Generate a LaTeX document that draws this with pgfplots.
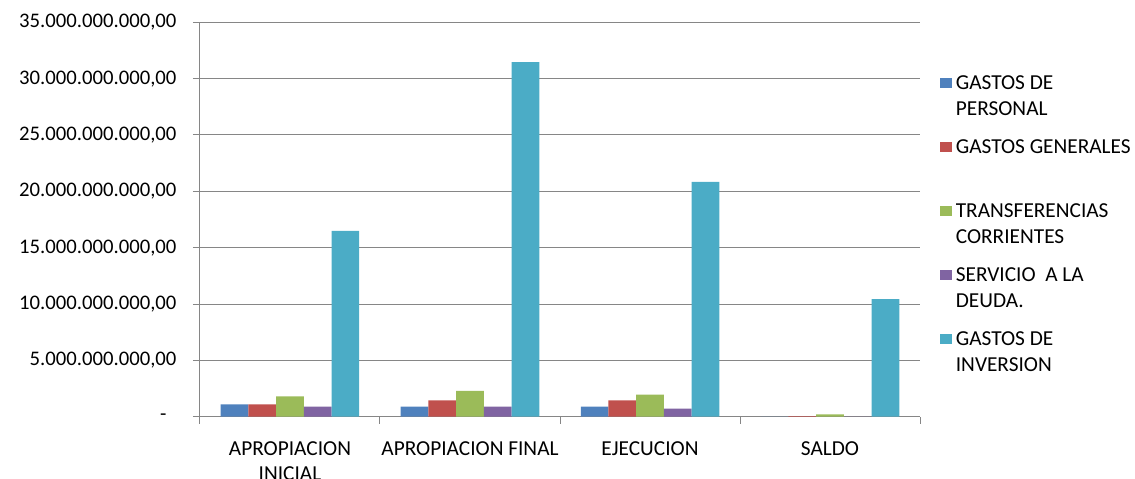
\documentclass[border=0pt]{standalone}
\usepackage{pgfplots}
\pgfplotsset{compat=1.18}
\usepackage{fontspec}
\setmainfont{Carlito}

\definecolor{c1}{HTML}{4F81BD}
\definecolor{c2}{HTML}{C0504D}
\definecolor{c3}{HTML}{9BBB59}
\definecolor{c4}{HTML}{8064A2}
\definecolor{c5}{HTML}{4BACC6}
\definecolor{gridc}{HTML}{868686}

\newcommand\lgentry[2]{\parbox[t]{180bp}{\strut #1\\\strut #2}}
% y labels: Excel-like spacing before the axis
\newcommand\yl[2][13bp]{{\fontsize{20.8}{25}\selectfont #2}\hspace*{#1}}

\begin{document}
\begin{tikzpicture}
\begin{axis}[
  at={(0,0)}, anchor=south west,
  scale only axis, width=720bp, height=394.4bp,
  font=\fontsize{21.4}{26}\selectfont,
  ybar=0pt, bar width=27.7bp,
  xmin=-0.5, xmax=3.5, ymin=0, ymax=35000000000,
  scaled y ticks=false,
  axis x line=bottom, axis y line=left,
  axis line style={-, gridc, line width=1bp},
  xtick={0,1,2,3},
  xticklabels={APROPIACION\\INICIAL, APROPIACION FINAL, EJECUCION, SALDO},
  x tick label style={align=center, yshift=-14bp},
  major x tick style={draw=none},
  minor xtick={-0.5,0.5,1.5,2.5,3.5},
  ytick={0,5000000000,10000000000,15000000000,20000000000,25000000000,30000000000,35000000000},
  yticklabels={\yl[23bp]{-},\yl{5.000.000.000,00},\yl{10.000.000.000,00},\yl{15.000.000.000,00},\yl{20.000.000.000,00},\yl{25.000.000.000,00},\yl{30.000.000.000,00},\yl{35.000.000.000,00}},
  ymajorgrids, grid style={gridc, line width=1bp},
  tick align=outside, major tick length=7bp, minor tick length=7bp,
  tick style={gridc, line width=1bp},
  sq legend/.style={legend image code/.code={\fill[##1] (0bp,1.5bp) rectangle (11.5bp,11.5bp);}},
  legend style={at={(1.028,0.8805)}, anchor=north west, draw=none, fill=none,
    inner sep=0pt, row sep=40.3bp, column sep=2bp,
    cells={anchor=base west, inner sep=0pt},
    font=\fontsize{21.4}{26}\selectfont},
]
\addplot[fill=c1, draw=none, sq legend] coordinates {(0,1100000000) (1,900000000) (2,900000000) (3,0)};
\addplot[fill=c2, draw=none, sq legend] coordinates {(0,1100000000) (1,1450000000) (2,1450000000) (3,50000000)};
\addplot[fill=c3, draw=none, sq legend] coordinates {(0,1800000000) (1,2300000000) (2,1950000000) (3,200000000)};
\addplot[fill=c4, draw=none, sq legend] coordinates {(0,900000000) (1,900000000) (2,720000000) (3,10000000)};
\addplot[fill=c5, draw=none, sq legend] coordinates {(0,16480000000) (1,31470000000) (2,20830000000) (3,10440000000)};
\legend{\lgentry{GASTOS DE}{PERSONAL}, \lgentry{GASTOS GENERALES}{}, \lgentry{TRANSFERENCIAS}{CORRIENTES}, \lgentry{SERVICIO\ \ A LA}{DEUDA.}, \lgentry{GASTOS DE}{INVERSION}}
\end{axis}
\pgfresetboundingbox
\path[use as bounding box] (-200bp,-62.3bp) rectangle (935bp,416.7bp);
\end{tikzpicture}
\end{document}
